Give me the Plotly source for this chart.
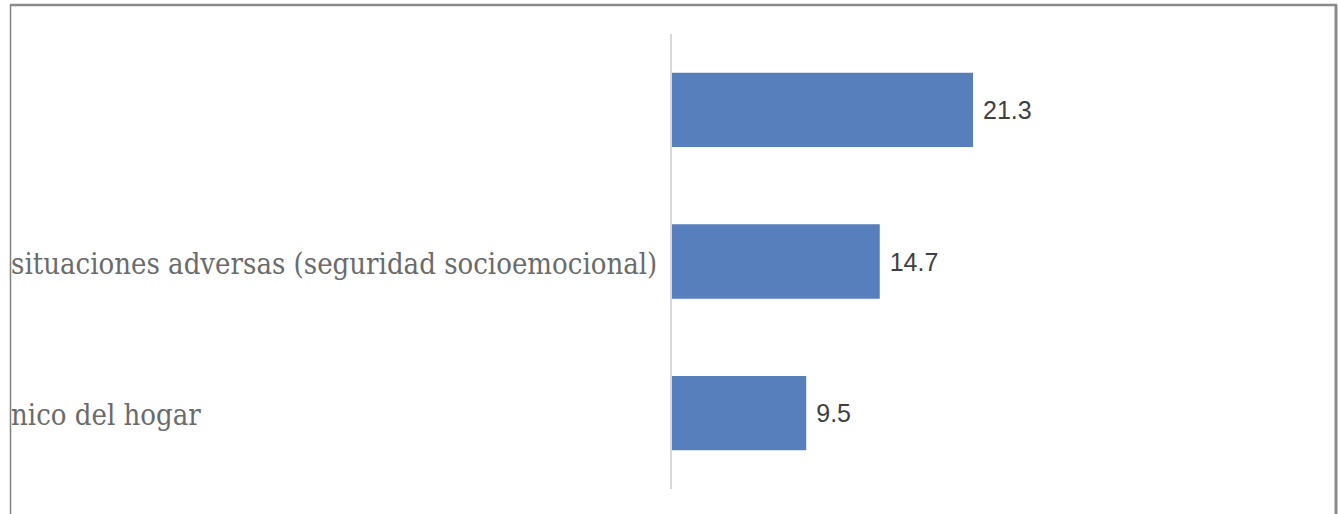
import plotly.graph_objects as go

categories = ["", "situaciones adversas (seguridad socioemocional)", "nico del hogar"]
values = [21.3, 14.7, 9.5]
value_labels = ["21.3", "14.7", "9.5"]

W, H = 1338, 514
ml, mr, mt, mb = 672, 30, 34, 25
pw = W - ml - mr
ph = H - mt - mb

def px(p):
    return (p - ml) / pw

def py(q):
    return (H - mb - q) / ph

# category keys (unique) for the y axis; visible label text from `categories`
cat_keys = [f"c{i}" for i in range(len(categories))]

fig = go.Figure(go.Bar(
    x=values, y=cat_keys, orientation="h",
    marker=dict(color="#577fbb", line=dict(width=0)),
    text=["\u00a0" + t for t in value_labels],
    textposition="outside", cliponaxis=False,
    textfont=dict(family="Liberation Sans", size=25, color="#404040"),
    width=0.49,
))

label_font = dict(family="DejaVu Serif Condensed, DejaVu Serif", size=29, color="#6b6b6b")
annotations = [
    dict(x=px(9), y=k, xref="paper", yref="y", text=lbl, showarrow=False,
         xanchor="left", yanchor="middle", font=label_font, yshift=-2)
    for k, lbl in zip(cat_keys, categories) if lbl
]

fig.update_layout(
    width=W, height=H,
    margin=dict(l=ml, r=mr, t=mt, b=mb),
    paper_bgcolor="white", plot_bgcolor="white",
    showlegend=False,
    xaxis=dict(range=[0, 45], visible=False, showgrid=False, zeroline=False, automargin=False),
    yaxis=dict(autorange="reversed", showline=True, linecolor="#d9d9d9", linewidth=1.5,
               showgrid=False, zeroline=False, ticks="", automargin=False,
               showticklabels=False),
    annotations=annotations,
    shapes=[
        dict(type="line", xref="paper", yref="paper", x0=px(10.5), x1=px(10.5), y0=py(5), y1=py(514), line=dict(color="#808080", width=1.5)),
        dict(type="line", xref="paper", yref="paper", x0=px(1336), x1=px(1336), y0=py(5), y1=py(514), line=dict(color="#8a8a8a", width=3)),
        dict(type="line", xref="paper", yref="paper", x0=px(10), x1=px(1337), y0=py(5), y1=py(5), line=dict(color="#8a8a8a", width=2.5)),
    ],
)

fig.write_html("out.html", config={"displayModeBar": False},
               post_script="document.body.style.margin='0';document.body.style.overflow='hidden';")
